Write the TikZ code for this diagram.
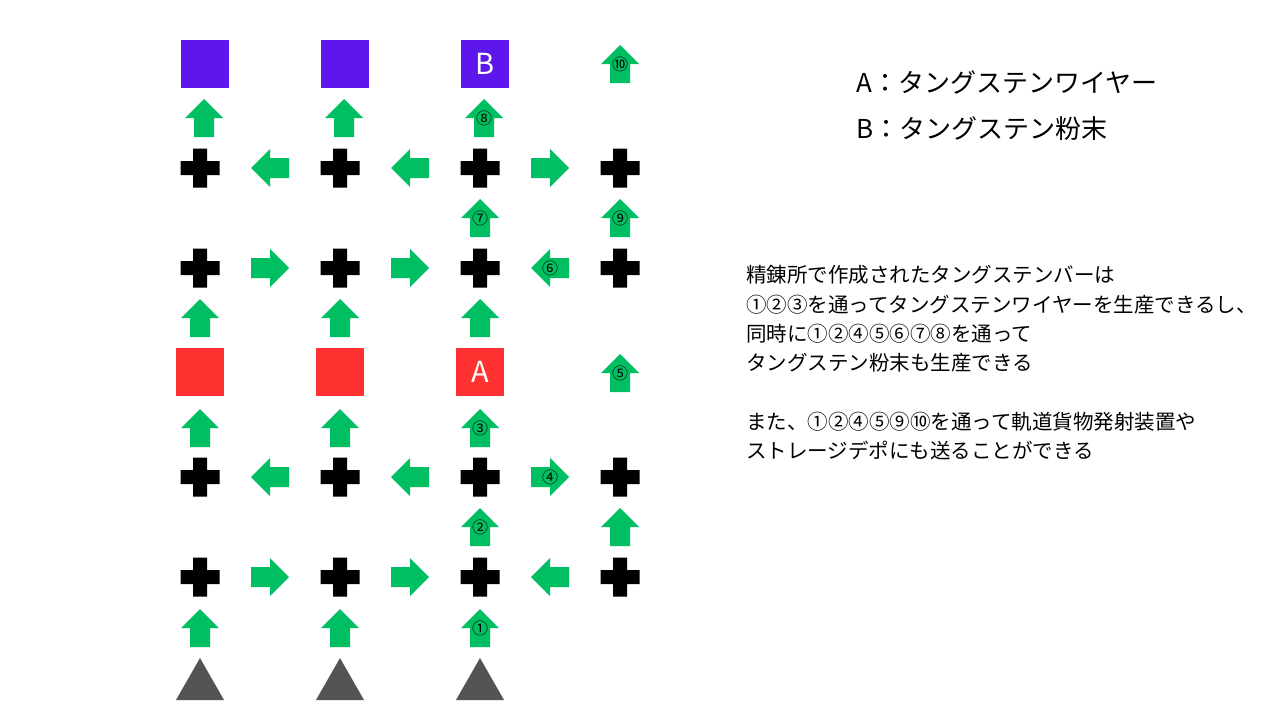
\documentclass[tikz,border=0pt]{standalone}
\usepackage{fontspec}
\setmainfont{Noto Sans CJK JP}
\usetikzlibrary{positioning}
\definecolor{gr}{HTML}{00BF63}
\definecolor{pu}{HTML}{5E17EB}
\definecolor{rd}{HTML}{FF3131}
\definecolor{g}{HTML}{545454}
\tikzset{
  joint/.style={minimum size=39pt,inner sep=0pt,path picture={
      \fill[black,shift={(path picture bounding box.center)}]
        (-7pt,-19.5pt) rectangle (7pt,19.5pt) (-19.5pt,-7pt) rectangle (19.5pt,7pt);}},
  pics/flow/.style 2 args={code={
      \fill[gr,rotate=#1] (-10pt,-19pt) -- (10pt,-19pt) -- (10pt,0pt) -- (19pt,0pt)
        -- (0pt,19pt) -- (-19pt,0pt) -- (-10pt,0pt) -- cycle;
      \node[inner sep=0pt,font=\fontsize{16}{16}\selectfont] (-n) {#2};}},
  bin/.style={minimum size=48pt,inner sep=0pt,text=white,font=\fontsize{29}{29}\selectfont},
  source/.style={minimum width=48pt,minimum height=42pt,inner sep=0pt,path picture={
      \fill[g,shift={(path picture bounding box.center)}]
        (-24pt,-21pt) -- (24pt,-21pt) -- (0pt,21pt) -- cycle;}}
}
\begin{document}
\begin{tikzpicture}[x=1pt,y=-1pt]
  \useasboundingbox (0,0) rectangle (1280,720);
  % three lines from the mines up to the depots
  \foreach \c/\x/\tb/\ta/\ne/\th/\on in {1/200/{}/{}/{}/{}/{},2/340/{}/{}/{}/{}/{},3/480/B/A/⑧/③/①}{
    \node[bin,fill=pu] (top\c) at (\x+5,64) {\tb};
    \pic (ua\c) at (\x+4,118) {flow={0}{\ne}};
    \node[joint] (ja\c) at (\x,168) {};
    \node[joint] (jb\c) at (\x,268) {};
    \pic (ub\c) at (\x,318) {flow={0}{}};
    \node[bin,fill=rd] (mid\c) at (\x,372) {\ta};
    \pic (uc\c) at (\x,428) {flow={0}{\th}};
    \node[joint] (jc\c) at (\x,477) {};
    \node[joint] (jd\c) at (\x,577) {};
    \pic (ud\c) at (\x,628) {flow={0}{\on}};
    \node[source] (mine\c) at (\x,679) {};
  }
  \foreach \x in {270,410}{
    \pic (la\x) at (\x,168) {flow={90}{}};
    \pic (rb\x) at (\x,268) {flow={-90}{}};
    \pic (lc\x) at (\x,477) {flow={90}{}};
    \pic (rd\x) at (\x,577) {flow={-90}{}};
  }
  \pic (u7) at (480,218) {flow={0}{⑦}};
  \pic (u2) at (480,527) {flow={0}{②}};
  % side line
  \pic (ra) at (550,168) {flow={-90}{}};
  \pic (lb) at (550,268) {flow={90}{⑥}};
  \pic (rc) at (550,477) {flow={-90}{④}};
  \pic (ld) at (550,577) {flow={90}{}};
  \pic (u10) at (620,64) {flow={0}{⑩}};
  \node[joint] (ja4) at (620,168) {};
  \pic (u9) at (620,218) {flow={0}{⑨}};
  \node[joint] (jb4) at (620,268) {};
  \pic (u5) at (620,373) {flow={0}{⑤}};
  \node[joint] (jc4) at (620,477) {};
  \pic (u4) at (620,527) {flow={0}{}};
  \node[joint] (jd4) at (620,577) {};
  % legend and note
  \node[anchor=west,font=\fontsize{26}{26}\selectfont] (keyA) at (853,82) {A：タングステンワイヤー};
  \node[anchor=west,font=\fontsize{26}{26}\selectfont] (keyB) at (853,129) {B：タングステン粉末};
  \node[anchor=west,align=left,inner sep=0pt,font=\fontsize{20.5}{29.3}\selectfont] (note) at (746,363)
    {精錬所で作成されたタングステンバーは\\①②③を通ってタングステンワイヤーを生産できるし、\\同時に①②④⑤⑥⑦⑧を通って\\タングステン粉末も生産できる\\[29.3pt]また、①②④⑤⑨⑩を通って軌道貨物発射装置や\\ストレージデポにも送ることができる};
\end{tikzpicture}
\end{document}
